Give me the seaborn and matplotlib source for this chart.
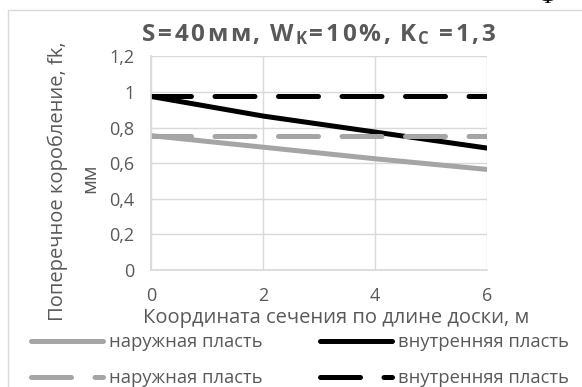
import matplotlib
matplotlib.use("Agg")
import matplotlib.pyplot as plt
from matplotlib.patches import Rectangle
import seaborn as sns
import pandas as pd

# Длина доски, м
coord = [0, 2, 4, 6]
# Поперечное коробление по расчёту (сплошные линии)
outer_calc = [0.755, 0.69, 0.625, 0.565]
inner_calc = [0.975, 0.865, 0.775, 0.685]
# Поперечное коробление без учёта длины (штриховые линии)
outer_const = [0.755, 0.755, 0.755, 0.755]
inner_const = [0.975, 0.975, 0.975, 0.975]

series_names = ["наружная пласть", "внутренняя пласть"]
y_ticks = [0, 0.2, 0.4, 0.6, 0.8, 1.0, 1.2]
x_ticks = [0, 2, 4, 6]
# заголовок: (текст, нижний индекс?)
title_parts = [("S=40мм, W", False), ("K", True), ("=10%, K", False),
               ("C", True), (" =1,3", False)]

sns.set_theme(style="white")
plt.rcParams["font.family"] = ["Open Sans", "DejaVu Sans"]

W, H = 582, 387
fig = plt.figure(figsize=(W / 100, H / 100), dpi=100)
fig.patch.set_facecolor("white")


def fx(px):
    return px / W


def fy(py):
    return 1 - py / H


# рамка области диаграммы
fig.patches.append(Rectangle((fx(8), -0.1), 1.2, fy(10) + 0.1,
                             transform=fig.transFigure, fill=False,
                             edgecolor="#d9d9d9", linewidth=1.0))

ax = fig.add_axes([fx(151), fy(270), 336 / W, 213.6 / H])

grey = "#a5a5a5"
txt = "#595959"
lw = 3.6
dash = (0, (8.0, 4.7))

df = pd.DataFrame({"x": coord, "outer": outer_calc, "inner": inner_calc,
                   "outer_c": outer_const, "inner_c": inner_const})

sns.lineplot(data=df, x="x", y="outer", ax=ax, color=grey, lw=lw,
             label=series_names[0], solid_capstyle="round")
sns.lineplot(data=df, x="x", y="inner", ax=ax, color="black", lw=lw,
             label=series_names[1], solid_capstyle="round")
sns.lineplot(data=df, x="x", y="outer_c", ax=ax, color=grey, lw=lw,
             label=series_names[0], linestyle=dash, dash_capstyle="round")
sns.lineplot(data=df, x="x", y="inner_c", ax=ax, color="black", lw=lw,
             label=series_names[1], linestyle=dash, dash_capstyle="round")

ax.set_xlim(0, 6)
ax.set_ylim(0, 1.2)
ax.set_xticks(x_ticks)
ax.set_yticks(y_ticks)
ax.set_xticklabels([str(v) for v in x_ticks])
ax.set_yticklabels([("%g" % v).replace(".", ",") for v in y_ticks])
ax.grid(True, color="#d9d9d9", lw=1.0)
ax.set_axisbelow(True)
for s in ax.spines.values():
    s.set_visible(False)
for s in ("left", "bottom"):
    ax.spines[s].set_visible(True)
    ax.spines[s].set_color("#d9d9d9")
ax.tick_params(axis="both", length=0, labelsize=13, colors=txt)
ax.tick_params(axis="y", pad=12)
ax.tick_params(axis="x", pad=12)
ax.set_xlabel("")
ax.set_ylabel("")

# подписи осей
fig.text(fx(336), fy(318), "Координата сечения по длине доски, м",
         fontsize=14.5, color=txt, ha="center", va="center")
fig.text(fx(58), fy(181), "Поперечное коробление, fk,", rotation=90,
         fontsize=14.5, color=txt, ha="center", va="center")
fig.text(fx(90), fy(178), "мм", rotation=90,
         fontsize=14.5, color=txt, ha="center", va="center")

# заголовок с разрядкой и нижними индексами
renderer = fig.canvas.get_renderer()
t_size, s_size = 17.5, 12
glyphs = []
for part, sub in title_parts:
    for ch in part:
        glyphs.append((ch, sub))
widths = []
for ch, sub in glyphs:
    if ch == " ":
        widths.append(5.0)
        continue
    t = fig.text(0, 0, ch, fontsize=s_size if sub else t_size,
                 fontweight="bold")
    widths.append(t.get_window_extent(renderer).width)
    t.remove()
target_w = 353.0
gap = (target_w - sum(widths)) / (len(glyphs) - 1)
x = 318.5 - target_w / 2
base = 41
for (ch, sub), w in zip(glyphs, widths):
    if ch != " ":
        fig.text(fx(x), fy(base + (3.5 if sub else 0)), ch,
                 fontsize=s_size if sub else t_size, fontweight="bold",
                 color=txt, ha="left", va="baseline")
    x += w + gap

handles, labels = ax.get_legend_handles_labels()
ax.get_legend().remove()
order = [0, 2, 1, 3]
fig.legend([handles[i] for i in order], [labels[i] for i in order],
           ncol=2, loc="upper left", bbox_to_anchor=(fx(31), fy(333)),
           frameon=False, fontsize=13.2, labelcolor=txt,
           handlelength=3.93, handletextpad=0.32, columnspacing=3.15,
           labelspacing=1.0, borderpad=0, borderaxespad=0)

fig.text(fx(547), fy(3), "Ф", family="Liberation Serif", fontsize=16,
         ha="center", va="baseline", color="black")

fig.savefig("out.png", dpi=100)
